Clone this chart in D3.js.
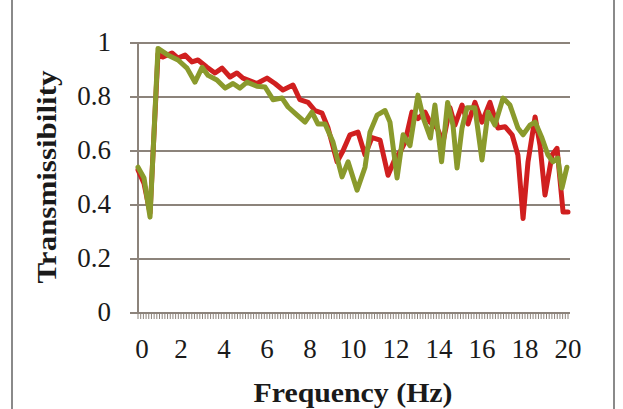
<!DOCTYPE html>
<html><head><meta charset="utf-8">
<script src="https://cdn.jsdelivr.net/npm/d3@7"></script>
<style>html,body{margin:0;padding:0;background:#fff;}svg{display:block;}</style>
</head><body>
<svg id="chart" width="623" height="409"></svg>
<script>
// Frequency (Hz) and transmissibility values
const redFreq = [0,0.28,0.56,0.93,1.16,1.58,1.86,2.19,2.51,2.79,3.21,3.58,3.91,4.28,4.6,4.88,5.21,5.53,6.0,6.37,6.74,7.21,7.53,7.91,8.23,8.56,8.84,9.26,9.53,9.86,10.23,10.56,10.88,11.26,11.63,11.95,12.19,12.42,12.74,13.02,13.35,13.58,13.91,14.19,14.51,14.74,15.07,15.35,15.67,16.0,16.37,16.74,17.07,17.4,17.67,17.91,18.14,18.47,18.7,18.93,19.26,19.49,19.77,20.0];
const redVals = [0.53,0.48,0.37,0.96,0.948,0.963,0.944,0.955,0.93,0.937,0.91,0.889,0.907,0.874,0.889,0.87,0.86,0.85,0.87,0.85,0.826,0.844,0.79,0.78,0.75,0.74,0.685,0.56,0.6,0.66,0.67,0.585,0.65,0.64,0.51,0.57,0.596,0.633,0.744,0.72,0.744,0.707,0.685,0.633,0.76,0.696,0.77,0.7,0.78,0.707,0.78,0.685,0.69,0.66,0.585,0.35,0.56,0.726,0.62,0.437,0.585,0.61,0.374,0.374];
const greenFreq = [0,0.28,0.56,0.93,1.4,1.86,2.28,2.65,2.98,3.26,3.67,4.05,4.42,4.74,5.07,5.53,5.91,6.28,6.7,6.98,7.4,7.77,8.09,8.37,8.7,9.07,9.49,9.77,10.19,10.56,10.79,11.12,11.49,11.72,12.05,12.33,12.65,13.02,13.28,13.6,13.81,14.12,14.4,14.65,14.84,15.07,15.3,15.67,16.0,16.28,16.6,16.98,17.3,17.67,17.91,18.23,18.47,18.79,19.07,19.3,19.53,19.72,19.95];
const greenVals = [0.54,0.5,0.355,0.98,0.955,0.937,0.907,0.855,0.91,0.88,0.863,0.833,0.85,0.833,0.855,0.84,0.837,0.79,0.796,0.763,0.733,0.707,0.744,0.7,0.7,0.633,0.504,0.56,0.455,0.54,0.67,0.733,0.75,0.707,0.5,0.66,0.62,0.807,0.72,0.648,0.77,0.56,0.78,0.696,0.537,0.685,0.76,0.76,0.567,0.744,0.696,0.796,0.77,0.685,0.66,0.696,0.707,0.648,0.585,0.56,0.574,0.463,0.54];
const xTickLabels = [0,2,4,6,8,10,12,14,16,18,20];
const yTickLabels = [0,0.2,0.4,0.6,0.8,1];

const svg = d3.select("#chart");
const x = d3.scaleLinear().domain([0,20]).range([138,568]);
const y = d3.scaleLinear().domain([0,1]).range([313,43]);

// outer frame (scanned page box)
svg.append("line").attr("x1",12).attr("x2",12).attr("y1",0).attr("y2",409).attr("stroke","#8a8a8a").attr("stroke-width",2);
svg.append("line").attr("x1",614).attr("x2",614).attr("y1",0).attr("y2",409).attr("stroke","#8a8a8a").attr("stroke-width",2);

const gridCol = "#8c837b";
svg.append("g").selectAll("line").data(yTickLabels.filter(d=>d>0)).join("line")
  .attr("x1",130).attr("x2",570).attr("y1",d=>y(d)).attr("y2",d=>y(d))
  .attr("stroke",gridCol).attr("stroke-width",2);

svg.append("line").attr("x1",138).attr("x2",138).attr("y1",y(1)).attr("y2",y(0)+1).attr("stroke",gridCol).attr("stroke-width",2);
svg.append("line").attr("x1",130).attr("x2",570).attr("y1",y(0)).attr("y2",y(0)).attr("stroke",gridCol).attr("stroke-width",2);
const minor = d3.range(0,20.001,0.125);
svg.append("g").selectAll("line").data(minor).join("line")
  .attr("x1",d=>x(d)).attr("x2",d=>x(d)).attr("y1",y(0)).attr("y2",y(0)+6)
  .attr("stroke",gridCol).attr("stroke-width",1);

svg.append("g").selectAll("text").data(yTickLabels).join("text")
  .attr("x",111).attr("y",d=>y(d)+8).attr("text-anchor","end")
  .attr("font-family","Liberation Serif, serif").attr("font-size",27).attr("fill","#1a1a1a")
  .text(d=>d3.format("")(d));
svg.append("g").selectAll("text").data(xTickLabels).join("text")
  .attr("x",d=>x(d)+ (d===0?4:0)).attr("y",358).attr("text-anchor","middle")
  .attr("font-family","Liberation Serif, serif").attr("font-size",27).attr("fill","#1a1a1a")
  .text(d=>d);

svg.append("text").attr("transform","translate(56,177) rotate(-90)").attr("text-anchor","middle")
  .attr("font-family","Liberation Serif, serif").attr("font-weight","bold").attr("font-size",27).attr("fill","#1a1a1a")
  .attr("textLength",213).attr("lengthAdjust","spacingAndGlyphs")
  .text("Transmissibility");
svg.append("text").attr("x",353).attr("y",402).attr("text-anchor","middle")
  .attr("font-family","Liberation Serif, serif").attr("font-weight","bold").attr("font-size",27).attr("fill","#1a1a1a")
  .attr("textLength",199).attr("lengthAdjust","spacingAndGlyphs")
  .text("Frequency (Hz)");

const line = d3.line().x(d=>x(d[0])).y(d=>y(d[1]));
const redData = redFreq.map((f,i)=>[f,redVals[i]]);
const greenData = greenFreq.map((f,i)=>[f,greenVals[i]]);
svg.append("path").datum(redData).attr("d",line).attr("fill","none")
  .attr("stroke","#d01f1f").attr("stroke-width",5).attr("stroke-linejoin","round").attr("stroke-linecap","round");
svg.append("path").datum(greenData).attr("d",line).attr("fill","none")
  .attr("stroke","#8a9a2c").attr("stroke-width",5).attr("stroke-linejoin","round").attr("stroke-linecap","round");
</script>
</body></html>
